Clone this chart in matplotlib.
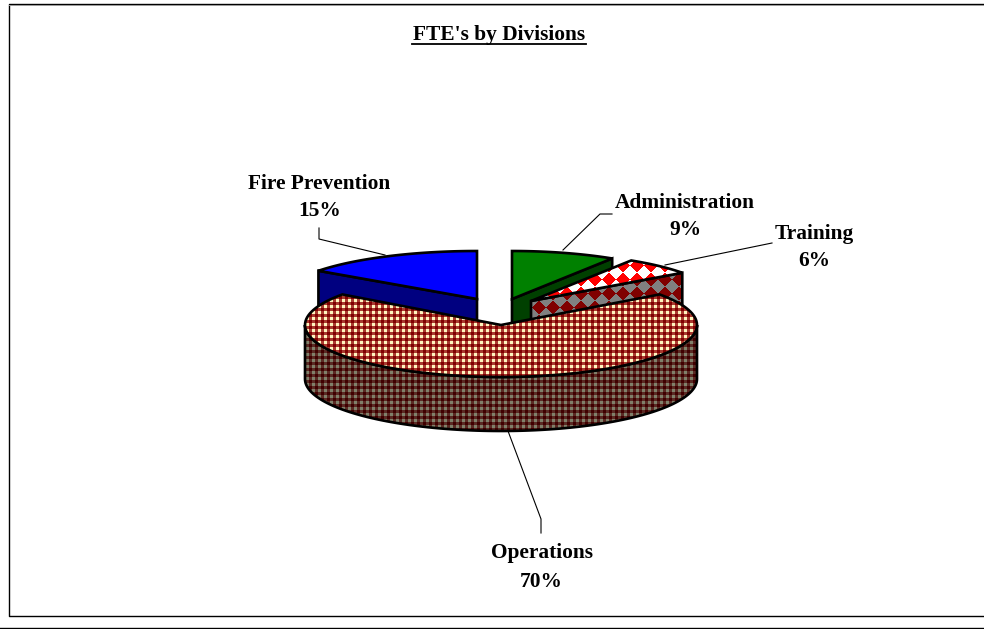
import numpy as np
import matplotlib
matplotlib.use("Agg")
import matplotlib.pyplot as plt
from matplotlib.patches import Polygon

# Pie data, clockwise from twelve o'clock
divisions = ["Administration", "Training", "Operations", "Fire Prevention"]
shares = [9, 6, 70, 15]
title = "FTE's by Divisions"

# Geometry of each slice in pixels: apex x, apex y, radius x, radius y
geometry = {
    "Administration": (512, 299, 187, 48),
    "Training": (531, 301, 187, 48),
    "Operations": (501, 325, 196, 52),
    "Fire Prevention": (477, 299, 196, 48),
}
depth = 54

plt.rcParams["font.family"] = ["Liberation Serif", "DejaVu Serif"]
fig = plt.figure(figsize=(9.84, 6.29), dpi=100)
ax = fig.add_axes([0, 0, 1, 1])
ax.set_xlim(0, 984)
ax.set_ylim(629, 0)
ax.axis("off")


def rgb(c):
    return np.array(matplotlib.colors.to_rgb(c))


def check_pattern(light, mid, dark):
    # little 6 px check, like the Excel pattern fill
    yy, xx = np.mgrid[0:629, 0:984]
    a = (xx % 6) < 3
    b = (yy % 6) < 3
    img = np.zeros((629, 984, 3))
    img[:] = rgb(mid)
    img[a & b] = rgb(light)
    img[~a & ~b] = rgb(dark)
    return img


def diamond_pattern(c1, c2, size=14):
    yy, xx = np.mgrid[0:629, 0:984]
    m = (((xx + yy) // size) + ((xx - yy) // size)) % 2 == 0
    img = np.zeros((629, 984, 3))
    img[:] = rgb(c2)
    img[m] = rgb(c1)
    return img


def fill(poly_xy, face, z):
    # face is a colour or a pattern image; outline goes on top
    if isinstance(face, str):
        ax.add_patch(Polygon(poly_xy, closed=True, fc=face, ec="none", zorder=z))
    else:
        im = ax.imshow(face, extent=(-0.5, 983.5, 628.5, -0.5), interpolation="nearest",
                       zorder=z, aspect="auto")
        clip = Polygon(poly_xy, closed=True, transform=ax.transData, fc="none", ec="none")
        ax.add_patch(clip)
        im.set_clip_path(clip)
    ax.add_patch(Polygon(poly_xy, closed=True, fc="none", ec="black", lw=1.9,
                         joinstyle="miter", zorder=z + 0.1))


def arc(name, t0, t1, n=120):
    cx, cy, rx, ry = geometry[name]
    t = np.radians(np.linspace(t0, t1, n))
    return np.column_stack([cx + rx * np.cos(t), cy - ry * np.sin(t)])


ops_top = check_pattern("#FFF5BE", "#A83A30", "#800000")
ops_side = check_pattern("#80806A", "#5A2A24", "#400000")
train_top = diamond_pattern("#FF0000", "#FFFFFF")
train_side = diamond_pattern("#800000", "#808080")
faces = {
    "Administration": ("#008000", "#004000"),
    "Training": (train_top, train_side),
    "Operations": (ops_top, ops_side),
    "Fire Prevention": ("#0000FF", "#000080"),
}
z_order = {"Fire Prevention": 2, "Administration": 3, "Training": 4, "Operations": 5}

xlim = ax.get_xlim()
ylim = ax.get_ylim()
start = 90.0
for name, share in zip(divisions, shares):
    stop = start - share * 3.6
    cx, cy, rx, ry = geometry[name]
    top_arc = arc(name, start, stop)
    z = z_order[name]
    top = np.vstack([[cx, cy], top_arc])
    if name == "Operations":
        # outer wall, only the front half shows
        front = arc(name, 180, 360)
        wall = np.vstack([front, front[::-1] + [0, depth]])
        fill(wall, faces[name][1], z)
    else:
        # cut face of the pulled out slice, Fire Prevention shows its first edge
        end = top_arc[0] if name == "Fire Prevention" else top_arc[-1]
        cut = np.array([[cx, cy], end, end + [0, depth], [cx, cy + depth]])
        fill(cut, faces[name][1], z)
    fill(top, faces[name][0], z + 0.3)
    start = stop
ax.set_xlim(xlim)
ax.set_ylim(ylim)

# Leader lines
leaders = [
    ([319, 319, 385], [228, 239, 255]),
    ([612, 600, 563], [214, 214, 250]),
    ([772, 665], [243, 265]),
    ([508, 541, 541], [431, 519, 533]),
]
for xs, ys in leaders:
    ax.plot(xs, ys, color="black", lw=0.8, zorder=8)

# Labels
labels = {
    "Fire Prevention": (319.5, 184, 211),
    "Administration": (685, 203, 230),
    "Training": (814, 234, 261),
    "Operations": (541.5, 553, 582),
}
for name, share in zip(divisions, shares):
    x, y1, y2 = labels[name]
    ax.text(x, y1, name, ha="center", va="center", fontsize=15.4, fontweight="bold", zorder=9)
    ax.text(x, y2, f"{share}%", ha="center", va="center", fontsize=15.4, fontweight="bold", zorder=9)

ax.text(499.5, 35, title, ha="center", va="center", fontsize=15.4, fontweight="bold")
ax.plot([412, 586], [43.5, 43.5], color="black", lw=1.3)

# Chart frame and the page line below it
ax.plot([984, 8.5, 8.5, 984], [3.5, 3.5, 615.5, 615.5], color="black", lw=1.0)
ax.plot([984, 9], [4.7, 4.7], color="#999999", lw=0.7)
ax.plot([0, 984], [628, 628], color="black", lw=1.0)

fig.savefig("out.png", dpi=100)
